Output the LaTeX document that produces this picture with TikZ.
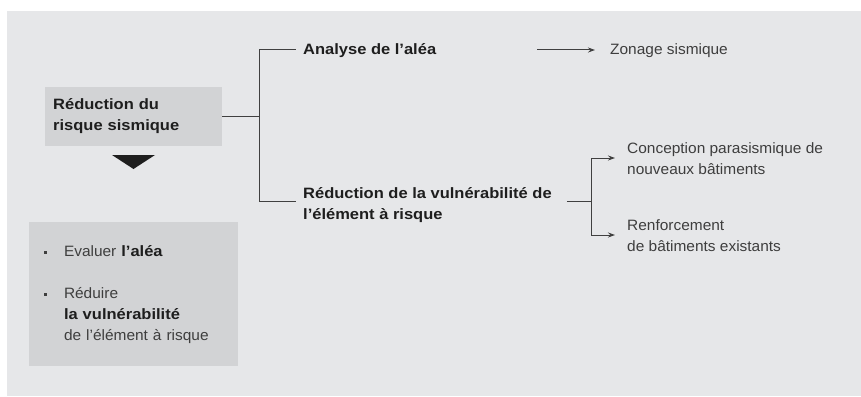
\documentclass[tikz,border=0pt]{standalone}
\usepackage{fontspec}
\setmainfont{Liberation Sans}[UprightFeatures={FakeStretch=1.03}, BoldFeatures={FakeStretch=1.1}]
\usetikzlibrary{arrows.meta, calc}
\definecolor{panel}{HTML}{E6E7E9}
\definecolor{boxgray}{HTML}{D2D3D5}
\definecolor{ink}{HTML}{1E1E1E}
\definecolor{soft}{HTML}{3E3E3E}
\newcommand{\sqbullet}{\raisebox{2.5pt}{\rule{2.8pt}{2.8pt}}}

\begin{document}
\begin{tikzpicture}[x=1pt, y=-1pt, >={Stealth[length=7pt, width=5pt]},
    every node/.style={inner sep=0pt, anchor=west, align=left, font=\fontsize{15}{21}\selectfont},
    strong/.style={text=ink, font=\fontsize{15}{21}\selectfont\bfseries},
    plain/.style={text=soft},
    link/.style={draw=ink!85, line width=1pt}]
      \useasboundingbox (0,0) rectangle (861,396);
      \fill[panel] (7,11) rectangle (861,396);
      % left column
      \node[strong, fill=boxgray, inner xsep=8pt, text width=161pt, minimum height=59pt] (main) at (45,116.5) {Réduction du\\risque sismique};
      \fill[ink] (112,155) -- (155,155) -- (133.5,169) -- cycle;
      \node[plain, fill=boxgray, inner xsep=15pt, text width=179pt, minimum height=144pt] (goals) at (29,294) {%
        \begin{tabular}{@{}l@{\hspace{17pt}}l@{}}
          \sqbullet & Evaluer \textbf{\color{ink}l’aléa}\\[21pt]
          \sqbullet & Réduire\\
                    & \textbf{\color{ink}la vulnérabilité}\\
                    & de l'élément à risque
        \end{tabular}};
      % branches
      \node[strong] (alea) at (303,51) {Analyse de l’aléa};
      \node[strong] (vuln) at (303,205) {Réduction de la vulnérabilité de\\l’élément à risque};
      \node[plain] (zonage) at (610,51) {Zonage sismique};
      \node[plain] (concept) at (627,159) {Conception parasismique de\\nouveaux bâtiments};
      \node[plain] (renfo) at (627,236) {Renforcement\\de bâtiments existants};
      \coordinate (zstart) at (537,50);
      % connectors
      \draw[link] (main.east) -- ++(37,0) coordinate (fork1);
      \draw[link] (fork1) |- ([xshift=-7pt, yshift=1pt]alea.west);
      \draw[link] (fork1) |- ([xshift=-7pt, yshift=4pt]vuln.west);
      \draw[link, ->] (zstart) -- ([xshift=-15pt, yshift=1pt]zonage.west);
      \draw[link] ([xshift=15pt, yshift=4pt]vuln.east) -- ++(25,0) coordinate (fork2);
      \draw[link, ->] (fork2) |- ([xshift=-12pt, yshift=1pt]concept.west);
      \draw[link, ->] (fork2) |- ([xshift=-12pt, yshift=1pt]renfo.west);
    \end{tikzpicture}
\end{document}
